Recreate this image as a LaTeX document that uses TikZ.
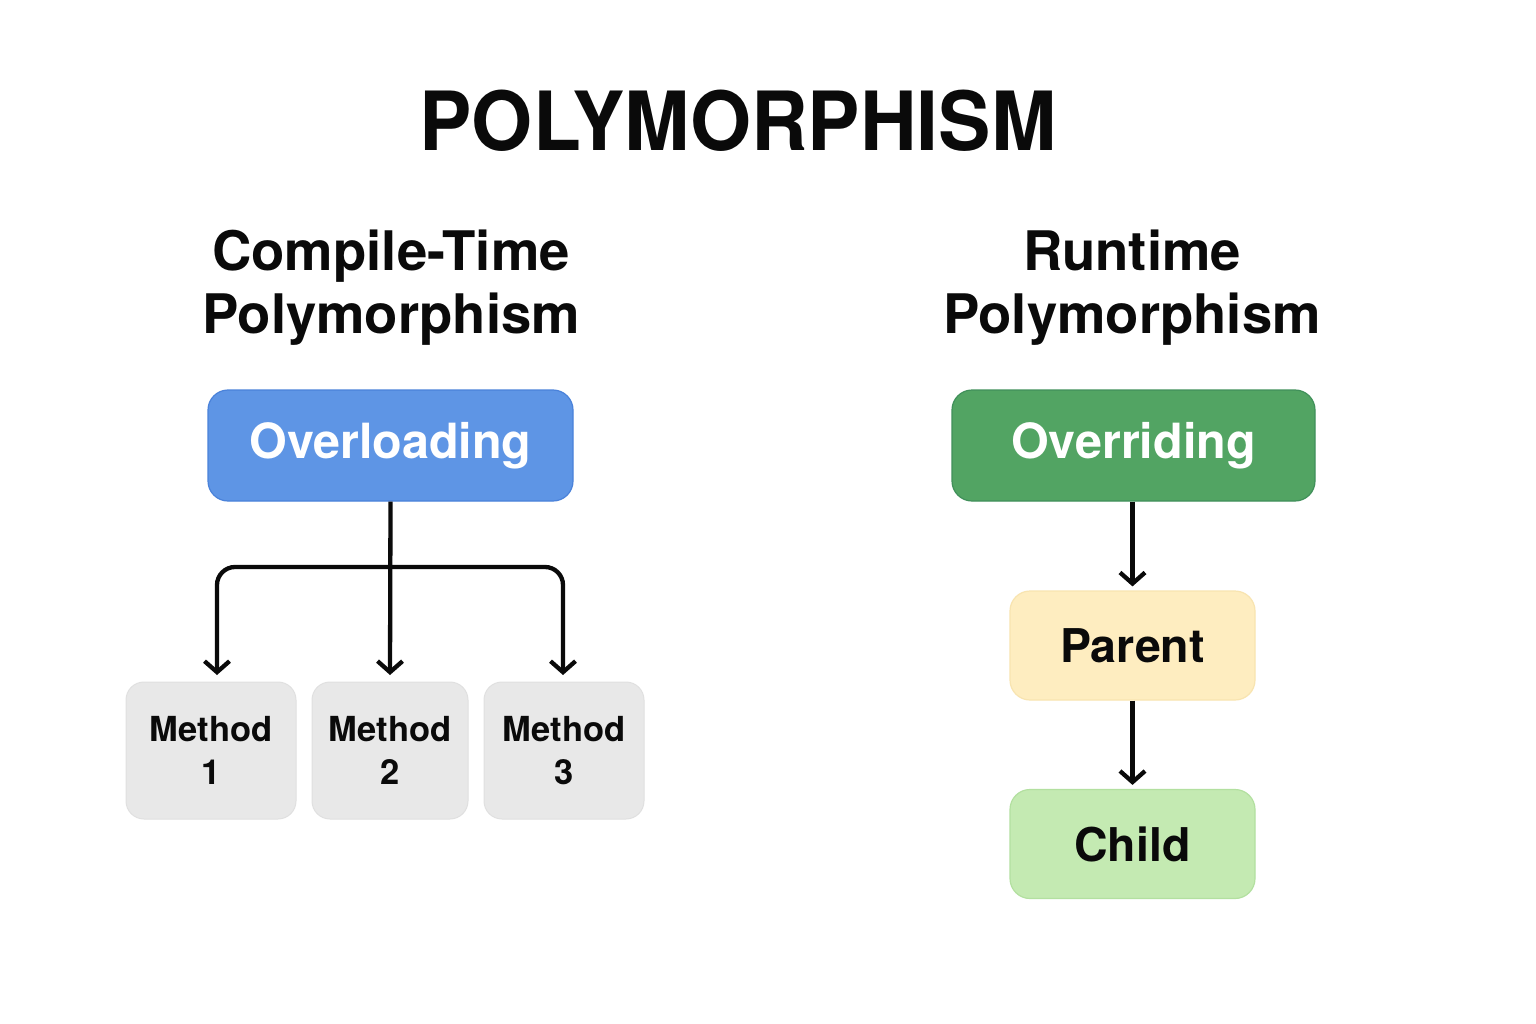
\documentclass[tikz,border=0pt]{standalone}
\usepackage{fontspec}
\setmainfont{TeX Gyre Heros}
\usetikzlibrary{arrows.meta,calc}

\definecolor{ovlfill}{HTML}{5E95E5}
\definecolor{ovldraw}{HTML}{4A82DA}
\definecolor{ovrfill}{HTML}{52A463}
\definecolor{ovrdraw}{HTML}{40905A}
\definecolor{parfill}{HTML}{FEEDC0}
\definecolor{pardraw}{HTML}{F8E4B0}
\definecolor{chdfill}{HTML}{C4EAB2}
\definecolor{chddraw}{HTML}{B3E0A0}
\definecolor{mthfill}{HTML}{E8E8E8}
\definecolor{mthdraw}{HTML}{E0E0E0}
\definecolor{ink}{HTML}{0A0A0A}

\tikzset{
  heading/.style={font=\fontsize{54.5}{63}\selectfont\bfseries, text=ink, align=center, inner sep=0pt},
  mainbox/.style={rounded corners=20pt, line width=1.2pt, minimum height=111pt, inner sep=0pt,
                  font=\fontsize{48.5}{50}\selectfont\bfseries, text=white},
  classbox/.style={rounded corners=20pt, line width=1.2pt, minimum width=245pt, minimum height=109pt,
                   inner sep=0pt, font=\fontsize{46.5}{50}\selectfont\bfseries, text=ink},
  methodbox/.style={rounded corners=18pt, line width=1pt, fill=mthfill, draw=mthdraw,
                    minimum height=137pt, inner sep=0pt, align=center,
                    font=\fontsize{34.5}{43}\selectfont\bfseries, text=ink},
  arrow/.style={line width=4.3pt, draw=ink, -{Straight Barb[length=11pt,width=25pt,line width=4.3pt]}},
}

\begin{document}
\begin{tikzpicture}[x=1pt,y=-1pt]
\useasboundingbox[fill=white] (0,0) rectangle (1536,1024);

% title
\node[inner sep=0pt, text=ink, font=\fontsize{78.5}{80}\selectfont\bfseries, yscale=1.04] (title) at (738,121) {POLYMORPHISM};

% column headings
\node[heading] (ctp) at (391,288) {Compile-Time\\Polymorphism};
\node[heading] (rtp) at (1132,288) {Runtime\\Polymorphism};

% compile-time side
\node[mainbox, fill=ovlfill, draw=ovldraw, minimum width=365pt] (ovl) at (390.5,445.5) {\raisebox{-2pt}{Overloading}};
\node[methodbox, minimum width=170pt] (m1) at (211,750.5) {Method\\1};
\node[methodbox, minimum width=156pt] (m2) at (390,750.5) {Method\\2};
\node[methodbox, minimum width=160pt] (m3) at (564,750.5) {Method\\3};

\coordinate (jn) at (390,567);
\coordinate (e1) at (217,675);
\coordinate (e2) at (390,675);
\coordinate (e3) at (563,675);

\draw[arrow] (ovl.south) -- (e2);
\draw[arrow, rounded corners=18pt] (jn) -| (e1);
\draw[arrow, rounded corners=18pt] (jn) -| (e3);

% runtime side
\node[mainbox, fill=ovrfill, draw=ovrdraw, minimum width=363pt] (ovr) at (1133.5,445.5) {\raisebox{-2pt}{Overriding}};
\node[classbox, fill=parfill, draw=pardraw] (par) at (1132.5,645.5) {Parent};
\node[classbox, fill=chdfill, draw=chddraw] (chd) at (1132.5,844) {Child};

\draw[arrow] (ovr.south -| par.north) -- ($(par.north)+(0,-4)$);
\draw[arrow] (par.south) -- ($(chd.north)+(0,-4)$);
\end{tikzpicture}
\end{document}
